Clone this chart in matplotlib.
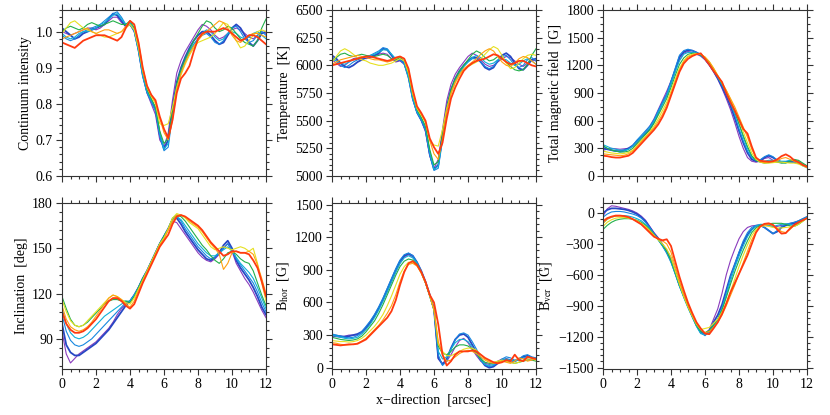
import numpy as np
import matplotlib
matplotlib.use('Agg')
import matplotlib.pyplot as plt
from matplotlib.ticker import MultipleLocator

plt.rcParams['font.family'] = ['Liberation Serif', 'DejaVu Serif']
plt.rcParams['mathtext.fontset'] = 'stix'

# x positions (arcsec), 0.25 arcsec sampling
x_arcsec = np.linspace(0, 12, 49)

series_colors = ['#8a3bbd', '#2747c4', '#1687e0', '#0fb0d8',
                 '#22b04a', '#e6e020', '#ffa010', '#ff3a10']
series_widths = [0.8, 1.3, 0.8, 0.8, 0.8, 0.8, 0.8, 1.3]

cont_curves = [
    [1.00, 0.995, 0.99, 0.995, 1.00, 1.005, 1.01, 1.01,
     1.005, 1.01, 1.02, 1.03, 1.04, 1.04, 1.025, 1.015,
     1.02, 1.0, 0.95, 0.88, 0.83, 0.80, 0.77, 0.70,
     0.68, 0.72, 0.81, 0.885, 0.92, 0.945, 0.965, 0.985,
     1.005, 1.02, 1.015, 1.005, 0.99, 0.98, 0.985, 0.995,
     1.005, 1.01, 1.005, 0.995, 0.985, 0.98, 0.99, 1.0, 0.995],
    [1.01, 1.0, 0.99, 0.98, 0.985, 0.995, 1.0, 1.005,
     1.01, 1.015, 1.02, 1.035, 1.05, 1.045, 1.03, 1.015,
     1.02, 1.005, 0.95, 0.88, 0.835, 0.81, 0.785, 0.715,
     0.675, 0.70, 0.79, 0.86, 0.90, 0.93, 0.955, 0.975,
     0.99, 1.0, 1.0, 0.99, 0.975, 0.965, 0.97, 0.99,
     1.01, 1.02, 1.01, 0.99, 0.97, 0.96, 0.975, 0.995, 1.0],
    [0.99, 0.98, 0.975, 0.98, 0.99, 1.0, 1.005, 1.01,
     1.015, 1.02, 1.03, 1.04, 1.05, 1.055, 1.04, 1.02,
     1.02, 1.0, 0.945, 0.875, 0.83, 0.805, 0.78, 0.71,
     0.67, 0.68, 0.77, 0.85, 0.89, 0.92, 0.945, 0.965,
     0.98, 0.99, 0.995, 0.985, 0.97, 0.965, 0.975, 0.995,
     1.01, 1.015, 1.0, 0.98, 0.97, 0.975, 0.99, 1.0, 0.99],
    [0.995, 0.985, 0.98, 0.985, 0.995, 1.0, 1.0, 1.005,
     1.01, 1.02, 1.025, 1.035, 1.045, 1.05, 1.035, 1.02,
     1.025, 1.005, 0.95, 0.88, 0.835, 0.81, 0.79, 0.72,
     0.675, 0.69, 0.775, 0.85, 0.89, 0.92, 0.945, 0.965,
     0.98, 0.995, 1.005, 1.0, 0.985, 0.975, 0.98, 0.995,
     1.0, 0.995, 0.985, 0.98, 0.985, 0.995, 1.0, 0.99, 0.98],
    [1.0, 1.01, 1.015, 1.01, 1.005, 1.01, 1.02, 1.025,
     1.02, 1.015, 1.02, 1.025, 1.03, 1.025, 1.02, 1.02,
     1.03, 1.01, 0.955, 0.89, 0.84, 0.815, 0.79, 0.725,
     0.69, 0.705, 0.78, 0.855, 0.895, 0.925, 0.95, 0.975,
     0.995, 1.015, 1.03, 1.025, 1.01, 1.0, 1.005, 1.015,
     1.01, 0.995, 0.98, 0.97, 0.965, 0.96, 0.975, 1.01, 1.035],
    [0.995, 1.01, 1.025, 1.03, 1.02, 1.01, 1.005, 1.0,
     0.995, 0.99, 0.985, 0.985, 0.99, 0.995, 1.0, 1.01,
     1.02, 1.005, 0.955, 0.89, 0.845, 0.82, 0.80, 0.745,
     0.74, 0.745, 0.79, 0.845, 0.88, 0.91, 0.935, 0.955,
     0.97, 0.975, 0.98, 0.985, 0.995, 1.01, 1.025, 1.02,
     1.0, 0.975, 0.955, 0.96, 0.975, 0.99, 1.0, 1.005, 1.0],
    [0.98, 0.985, 0.99, 0.995, 1.0, 1.005, 1.01, 1.0,
     0.995, 1.0, 1.005, 1.005, 1.0, 0.995, 1.0, 1.015,
     1.03, 1.02, 0.97, 0.90, 0.85, 0.825, 0.805, 0.76,
     0.72, 0.70, 0.755, 0.84, 0.885, 0.915, 0.94, 0.96,
     0.975, 0.99, 1.0, 1.01, 1.02, 1.03, 1.025, 1.01,
     0.99, 0.975, 0.97, 0.98, 0.99, 0.995, 0.995, 0.99, 0.985],
    [0.97, 0.965, 0.96, 0.955, 0.965, 0.975, 0.98, 0.985,
     0.99, 0.99, 0.99, 0.985, 0.98, 0.975, 0.985, 1.01,
     1.03, 1.02, 0.97, 0.90, 0.85, 0.825, 0.81, 0.765,
     0.73, 0.705, 0.755, 0.83, 0.87, 0.885, 0.905, 0.945,
     0.98, 0.995, 1.0, 1.0, 1.0, 1.005, 1.01, 1.005,
     0.995, 0.985, 0.975, 0.98, 0.99, 0.99, 0.985, 0.975, 0.965],
]

temp_curves = [
    [6050, 6020, 5990, 6000, 6030, 6060, 6070, 6070,
     6060, 6070, 6090, 6100, 6110, 6100, 6060, 6030,
     6040, 6010, 5900, 5700, 5570, 5500, 5400, 5180,
     5070, 5150, 5420, 5680, 5830, 5920, 5980, 6030,
     6080, 6110, 6090, 6050, 6010, 5990, 6000, 6030,
     6060, 6080, 6070, 6040, 6010, 5990, 6020, 6050, 6040],
    [6090, 6060, 6020, 5990, 5980, 6000, 6030, 6050,
     6070, 6080, 6090, 6110, 6150, 6140, 6090, 6040,
     6050, 6020, 5900, 5700, 5580, 5510, 5420, 5200,
     5060, 5100, 5370, 5620, 5780, 5880, 5950, 6000,
     6040, 6070, 6070, 6030, 5980, 5960, 5980, 6040,
     6090, 6110, 6080, 6020, 5970, 5960, 6000, 6050, 6060],
    [6070, 6040, 6000, 5980, 6000, 6030, 6050, 6060,
     6080, 6090, 6110, 6130, 6160, 6150, 6100, 6050,
     6050, 6010, 5880, 5690, 5570, 5500, 5410, 5190,
     5050, 5070, 5320, 5590, 5760, 5860, 5930, 5990,
     6030, 6060, 6060, 6030, 5990, 5970, 5990, 6040,
     6080, 6090, 6050, 6000, 5980, 6000, 6050, 6070, 6040],
    [6060, 6040, 6020, 6010, 6030, 6050, 6060, 6070,
     6080, 6090, 6100, 6120, 6140, 6140, 6100, 6060,
     6070, 6030, 5900, 5710, 5580, 5520, 5440, 5220,
     5060, 5090, 5340, 5600, 5760, 5860, 5930, 5990,
     6030, 6070, 6090, 6070, 6030, 6010, 6020, 6050,
     6060, 6050, 6020, 6000, 6010, 6040, 6060, 6040, 6010],
    [6040, 6070, 6100, 6110, 6090, 6080, 6090, 6100,
     6090, 6080, 6080, 6090, 6100, 6090, 6060, 6050,
     6070, 6040, 5920, 5730, 5600, 5530, 5450, 5240,
     5100, 5130, 5370, 5620, 5780, 5880, 5950, 6000,
     6050, 6100, 6130, 6110, 6070, 6040, 6050, 6080,
     6070, 6030, 5990, 5960, 5950, 5960, 6010, 6090, 6150],
    [6030, 6080, 6130, 6150, 6130, 6100, 6070, 6050,
     6040, 6020, 6010, 6000, 6000, 6010, 6020, 6040,
     6060, 6040, 5930, 5740, 5610, 5550, 5480, 5320,
     5280, 5270, 5420, 5610, 5740, 5840, 5910, 5960,
     5990, 6010, 6030, 6060, 6100, 6140, 6170, 6150,
     6090, 6020, 5970, 5980, 6020, 6060, 6090, 6100, 6090],
    [6010, 6030, 6050, 6060, 6070, 6080, 6090, 6080,
     6070, 6060, 6050, 6050, 6040, 6030, 6040, 6060,
     6080, 6060, 5960, 5760, 5620, 5560, 5490, 5320,
     5200, 5150, 5330, 5590, 5750, 5850, 5920, 5970,
     6000, 6030, 6060, 6100, 6130, 6150, 6130, 6080,
     6030, 6000, 5990, 6020, 6060, 6080, 6070, 6040, 6010],
    [6000, 6010, 6020, 6030, 6040, 6050, 6060, 6070,
     6080, 6080, 6070, 6060, 6050, 6040, 6050, 6070,
     6080, 6060, 5970, 5780, 5630, 5570, 5500, 5340,
     5260, 5200, 5300, 5520, 5700, 5800, 5880, 5950,
     5990, 6020, 6040, 6050, 6060, 6080, 6100, 6090,
     6060, 6030, 6010, 6020, 6040, 6040, 6020, 6000, 5990],
]

btot_curves = [
    [280, 290, 300, 295, 290, 295, 300, 320,
     360, 420, 480, 540, 620, 720, 820, 920,
     1030, 1150, 1260, 1330, 1350, 1340, 1320, 1300,
     1260, 1200, 1130, 1050, 950, 840, 720, 580,
     430, 300, 200, 160, 150, 160, 190, 200,
     170, 150, 145, 150, 155, 150, 140, 120, 100],
    [300, 290, 280, 270, 270, 280, 300, 330,
     380, 420, 460, 510, 590, 690, 790, 880,
     1010, 1150, 1290, 1345, 1365, 1360, 1340, 1310,
     1270, 1210, 1140, 1060, 970, 870, 760, 630,
     490, 360, 250, 180, 160, 170, 200, 220,
     200, 170, 150, 150, 160, 150, 140, 120, 100],
    [320, 300, 280, 270, 260, 270, 290, 330,
     390, 440, 490, 540, 610, 710, 800, 890,
     1030, 1170, 1310, 1360, 1375, 1360, 1340, 1320,
     1280, 1230, 1160, 1080, 990, 900, 790, 660,
     510, 380, 270, 200, 170, 175, 210, 230,
     210, 170, 150, 145, 150, 150, 140, 110, 90],
    [340, 320, 300, 290, 280, 280, 290, 320,
     370, 420, 470, 520, 590, 690, 780, 870,
     1000, 1130, 1250, 1320, 1340, 1340, 1330, 1310,
     1270, 1220, 1150, 1070, 990, 900, 800, 690,
     560, 420, 300, 210, 170, 160, 160, 170,
     170, 165, 160, 160, 170, 175, 160, 130, 110],
    [330, 300, 280, 270, 260, 260, 270, 300,
     350, 400, 450, 500, 570, 660, 750, 840,
     960, 1090, 1210, 1280, 1320, 1330, 1330, 1310,
     1280, 1230, 1160, 1080, 1000, 910, 810, 700,
     570, 440, 320, 220, 170, 150, 140, 145,
     150, 150, 140, 140, 160, 180, 170, 140, 110],
    [270, 260, 250, 245, 240, 245, 255, 280,
     330, 380, 430, 480, 540, 620, 710, 800,
     920, 1050, 1170, 1250, 1300, 1320, 1330, 1320,
     1290, 1240, 1170, 1090, 1010, 930, 830, 720,
     600, 480, 360, 250, 180, 150, 140, 140,
     145, 150, 150, 145, 140, 140, 130, 110, 90],
    [240, 235, 230, 225, 220, 225, 240, 270,
     320, 370, 420, 470, 520, 590, 670, 770,
     890, 1020, 1150, 1240, 1290, 1310, 1320, 1320,
     1290, 1240, 1170, 1090, 1010, 930, 840, 750,
     640, 530, 420, 290, 200, 155, 145, 150,
     155, 165, 190, 200, 180, 160, 140, 120, 100],
    [220, 215, 205, 200, 200, 210, 220, 250,
     300, 350, 400, 450, 500, 560, 640, 740,
     870, 1000, 1130, 1220, 1270, 1300, 1320, 1330,
     1270, 1210, 1140, 1080, 1020, 900, 800, 710,
     610, 510, 460, 320, 200, 165, 160, 155,
     160, 180, 215, 235, 210, 170, 150, 120, 100],
]

incl_curves = [
    [95, 80, 74, 77, 80, 82, 84, 86,
     88, 91, 94, 97, 101, 106, 110, 113,
     115, 119, 124, 130, 135, 141, 147, 153,
     158, 163, 168, 167, 163, 159, 155, 151,
     147, 144, 142, 141, 143, 146, 150, 153,
     148, 140, 135, 130, 126, 121, 115, 109, 104],
    [100, 86, 81, 79, 79, 81, 83, 85,
     87, 90, 93, 96, 100, 104, 108, 112,
     115, 119, 124, 130, 135, 141, 147, 153,
     158, 163, 169, 170, 166, 161, 157, 153,
     149, 146, 143, 142, 144, 147, 152, 155,
     150, 142, 137, 133, 129, 124, 118, 111, 106],
    [106, 95, 89, 86, 85, 86, 88, 90,
     93, 96, 99, 102, 105, 108, 111, 114,
     115, 119, 124, 130, 135, 141, 147, 153,
     158, 163, 169, 171, 168, 163, 159, 155,
     151, 148, 145, 143, 144, 147, 150, 153,
     149, 143, 139, 135, 131, 127, 121, 114, 108],
    [110, 100, 94, 91, 90, 91, 93, 96,
     99, 102, 105, 107, 109, 111, 113, 115,
     115, 119, 124, 130, 135, 141, 147, 153,
     158, 163, 169, 171, 169, 165, 161, 157,
     153, 150, 147, 145, 145, 147, 149, 151,
     148, 144, 140, 137, 134, 130, 124, 117, 110],
    [118, 110, 103, 99, 98, 99, 101, 104,
     107, 110, 113, 115, 116, 116, 115, 115,
     114, 118, 124, 130, 135, 141, 147, 153,
     158, 163, 170, 172, 171, 168, 164, 160,
     156, 152, 149, 145, 142, 140, 143, 147,
     148, 146, 143, 141, 140, 135, 127, 119, 112],
    [116, 108, 102, 99, 98, 99, 102, 105,
     108, 111, 114, 117, 119, 118, 116, 114,
     113, 117, 123, 129, 135, 141, 147, 153,
     157, 163, 170, 173, 172, 170, 167, 165,
     163, 159, 155, 151, 149, 150, 151, 150,
     149, 150, 151, 150, 148, 150, 140, 127, 115],
    [112, 103, 98, 96, 95, 96, 98, 101,
     105, 109, 113, 117, 119, 118, 116, 113,
     111, 115, 122, 128, 134, 140, 146, 152,
     156, 162, 168, 172, 172, 171, 168, 166,
     164, 161, 157, 153, 150, 146, 136, 140,
     147, 148, 147, 147, 148, 146, 139, 130, 120],
    [108, 100, 96, 94, 94, 95, 97, 100,
     103, 107, 111, 115, 117, 117, 115, 112,
     110, 113, 120, 127, 133, 139, 145, 151,
     155, 159, 166, 171, 172, 171, 169, 167,
     165, 162, 158, 154, 151, 148, 145, 146,
     148, 148, 147, 147, 146, 142, 137, 128, 118],
]

bhor_curves = [
    [290, 285, 280, 290, 300, 300, 300, 320,
     360, 410, 470, 540, 620, 700, 790, 880,
     960, 1020, 1040, 1020, 960, 880, 780, 660,
     530, 80, 40, 60, 120, 190, 250, 270,
     230, 170, 110, 60, 40, 30, 40, 60,
     80, 70, 50, 60, 80, 90, 80, 70, 90],
    [300, 295, 290, 285, 290, 300, 310, 330,
     370, 420, 480, 550, 630, 720, 810, 900,
     980, 1030, 1050, 1030, 970, 890, 790, 670,
     540, 90, 30, 80, 180, 260, 300, 310,
     280, 210, 140, 70, 20, 0, 10, 40,
     70, 80, 70, 60, 80, 100, 110, 90, 80],
    [310, 300, 290, 280, 275, 280, 295, 330,
     380, 430, 490, 560, 640, 730, 820, 910,
     990, 1040, 1055, 1030, 970, 890, 790, 670,
     540, 120, 20, 60, 170, 260, 310, 320,
     300, 240, 170, 90, 30, 10, 20, 50,
     80, 100, 90, 70, 80, 110, 120, 100, 90],
    [300, 290, 280, 270, 265, 270, 280, 310,
     350, 400, 460, 530, 610, 700, 790, 880,
     960, 1010, 1030, 1010, 960, 880, 780, 660,
     530, 150, 80, 100, 170, 230, 260, 260,
     240, 190, 130, 70, 30, 20, 30, 50,
     70, 80, 70, 60, 70, 90, 100, 90, 80],
    [280, 270, 260, 255, 250, 255, 265, 290,
     330, 380, 430, 500, 580, 670, 760, 850,
     930, 980, 1000, 990, 950, 875, 780, 660,
     530, 200, 130, 120, 150, 190, 210, 210,
     200, 170, 130, 80, 50, 40, 40, 50,
     60, 60, 50, 40, 50, 60, 70, 70, 60],
    [250, 245, 240, 240, 235, 240, 250, 270,
     300, 340, 380, 430, 490, 570, 660, 760,
     860, 930, 970, 970, 940, 870, 780, 660,
     530, 220, 150, 110, 110, 130, 150, 170,
     180, 180, 160, 120, 80, 60, 50, 60,
     70, 60, 50, 40, 50, 70, 80, 80, 70],
    [230, 225, 215, 210, 210, 215, 225, 245,
     270, 310, 350, 390, 440, 500, 570, 670,
     790, 890, 950, 960, 935, 870, 780, 665,
     535, 240, 120, 60, 70, 100, 130, 150,
     160, 150, 130, 100, 70, 50, 40, 50,
     60, 50, 40, 60, 90, 80, 60, 70, 80],
    [215, 210, 205, 210, 215, 215, 220, 240,
     260, 300, 340, 380, 420, 460, 520, 620,
     760, 880, 960, 980, 945, 880, 790, 670,
     600, 400, 120, 20, 60, 120, 150, 150,
     150, 160, 150, 120, 90, 70, 50, 40,
     50, 70, 60, 120, 70, 60, 100, 90, 80],
]

bver_curves = [
    [-30, 40, 70, 65, 55, 45, 35, 20,
     0, -30, -70, -130, -190, -240, -300, -360,
     -430, -550, -680, -800, -900, -990, -1080, -1150,
     -1170, -1130, -1030, -930, -780, -600, -460, -350,
     -250, -180, -140, -125, -120, -115, -115, -120,
     -130, -130, -120, -110, -100, -90, -80, -60, -40],
    [0, 30, 45, 45, 40, 35, 25, 10,
     -10, -40, -80, -140, -200, -250, -310, -380,
     -460, -580, -700, -800, -900, -1000, -1090, -1160,
     -1180, -1150, -1060, -990, -890, -750, -610, -500,
     -390, -290, -210, -160, -125, -120, -140, -170,
     -200, -180, -140, -120, -110, -100, -80, -60, -40],
    [-40, -10, 10, 15, 15, 10, 0, -10,
     -25, -50, -90, -140, -200, -260, -320, -390,
     -480, -590, -710, -810, -910, -1000, -1090, -1160,
     -1190, -1150, -1080, -1030, -920, -770, -620, -500,
     -380, -270, -190, -140, -120, -120, -140, -170,
     -200, -170, -130, -110, -100, -90, -75, -55, -35],
    [-100, -60, -40, -30, -25, -25, -30, -40,
     -55, -75, -110, -155, -210, -260, -320, -380,
     -470, -590, -710, -820, -920, -1010, -1100, -1170,
     -1180, -1160, -1100, -1040, -940, -800, -660, -530,
     -420, -320, -230, -165, -125, -110, -110, -120,
     -130, -120, -110, -105, -110, -120, -100, -70, -45],
    [-160, -120, -90, -70, -60, -55, -55, -60,
     -70, -90, -120, -160, -210, -260, -310, -370,
     -460, -580, -700, -810, -910, -1000, -1090, -1150,
     -1160, -1140, -1090, -1030, -940, -820, -690, -570,
     -460, -360, -270, -190, -145, -120, -110, -105,
     -100, -100, -100, -110, -125, -130, -110, -80, -50],
    [-130, -90, -65, -50, -45, -45, -50, -60,
     -75, -100, -130, -170, -215, -260, -300, -350,
     -430, -560, -690, -810, -910, -1000, -1080, -1130,
     -1120, -1110, -1070, -1030, -960, -870, -760, -640,
     -520, -410, -310, -220, -160, -130, -125, -130,
     -140, -145, -145, -140, -135, -130, -110, -80, -50],
    [-100, -60, -40, -30, -30, -35, -45, -60,
     -80, -110, -140, -180, -220, -250, -270, -300,
     -380, -520, -660, -790, -900, -990, -1070, -1130,
     -1160, -1150, -1110, -1060, -990, -900, -800, -700,
     -590, -480, -370, -260, -180, -130, -115, -110,
     -120, -150, -180, -190, -160, -120, -90, -70, -50],
    [-80, -50, -35, -25, -25, -30, -40, -60,
     -85, -110, -150, -190, -230, -250, -265, -255,
     -320, -470, -620, -750, -870, -970, -1060, -1120,
     -1170, -1175, -1120, -1060, -980, -880, -770, -680,
     -590, -500, -410, -300, -190, -130, -105, -100,
     -115, -160, -200, -195, -150, -115, -90, -70, -50],
]

y_labels = ['Continuum intensity', 'Temperature  [K]', 'Total magnetic field  [G]',
            'Inclination  [deg]', r'B$_{\mathrm{hor}}$  [G]', r'B$_{\mathrm{ver}}$  [G]']
x_label = 'x\u2212direction  [arcsec]'

panel_data = [cont_curves, temp_curves, btot_curves, incl_curves, bhor_curves, bver_curves]
panel_ylims = [(0.6, 1.06), (5000, 6500), (0, 1800), (70, 180), (-12, 1515), (-1513, 97)]
panel_major = [0.1, 250, 300, 30, 300, 300]
panel_minor = [0.02, 50, 75, 6, 60, 60]

W, H = 830.0, 415.0
lefts = [62, 332, 603]
col_w = 204
row_tops = [10, 203]
row_h = 166

fig = plt.figure(figsize=(8.3, 4.15), dpi=100)
axcol = '#333333'
for k in range(6):
    r, c = divmod(k, 3)
    ax = fig.add_axes([lefts[c] / W, 1 - (row_tops[r] + row_h) / H, col_w / W, row_h / H])
    for curve, col, lw in zip(panel_data[k], series_colors, series_widths):
        ax.plot(x_arcsec, curve, color=col, lw=lw, solid_joinstyle='round')
    ax.set_xlim(0, 12)
    ax.set_ylim(*panel_ylims[k])
    ax.xaxis.set_major_locator(MultipleLocator(2))
    ax.xaxis.set_minor_locator(MultipleLocator(0.5))
    ax.yaxis.set_major_locator(MultipleLocator(panel_major[k]))
    ax.yaxis.set_minor_locator(MultipleLocator(panel_minor[k]))
    ax.tick_params(which='both', direction='out', top=True, right=True,
                   color=axcol, width=0.8, labelsize=10, pad=2)
    ax.tick_params(which='major', length=4.5)
    ax.tick_params(which='minor', length=2.2)
    if r == 0:
        ax.tick_params(labelbottom=False)
    for sp in ax.spines.values():
        sp.set_linewidth(0.8)
        sp.set_color(axcol)
    ax.set_ylabel(y_labels[k], fontsize=10, labelpad=3)
    if k == 4:
        ax.set_xlabel(x_label, fontsize=10, labelpad=2)

fig.savefig('out.png', dpi=100)
